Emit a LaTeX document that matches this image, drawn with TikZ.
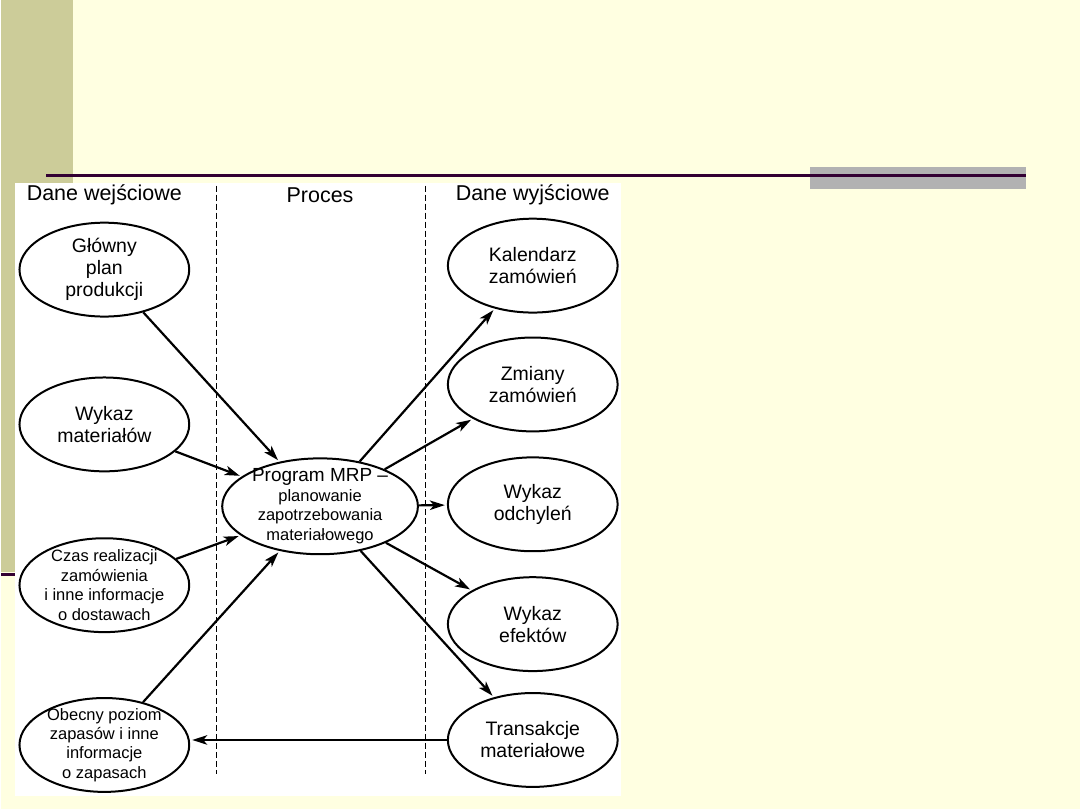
\documentclass[tikz,border=0pt]{standalone}
\usepackage{fontspec}
\setmainfont{Liberation Sans}
\usetikzlibrary{shapes.geometric,arrows.meta}
\definecolor{slidebg}{RGB}{255,255,225}
\definecolor{sidebar}{RGB}{204,204,153}
\definecolor{rulecol}{RGB}{51,0,51}
\definecolor{tabgray}{RGB}{178,178,178}
\begin{document}
\begin{tikzpicture} [x = 1pt, y = -1pt,
	box/.style = {ellipse, draw, line width = 2pt, minimum width = 170pt, minimum height = 94pt, inner sep = -10pt, align = center, font = \fontsize{19.5}{22}\selectfont},
	small/.style = {font = \fontsize{16.5}{19.5}\selectfont},
	flow/.style = {line width = 2.2pt, shorten > = 2pt, -{Stealth[length = 15pt, width = 9.5pt, inset = 4pt]}},
	head/.style = {font = \fontsize{21.5}{24}\selectfont},
	sep/.style = {line width = 0.8pt, dash pattern = on 6pt off 3pt}]
	\fill [slidebg] (0,0) rectangle (1080,810);
	\fill [sidebar] (0,0) rectangle (72,573);
	\draw [rulecol, line width = 3pt] (0,575) -- (72,575);
	\fill [tabgray] (810,167) rectangle (1026,189);
	\draw [rulecol, line width = 3pt] (45,176) -- (1026,176);
	\fill [white] (14,183) rectangle (620,797);
	% column heads and separators
	\node [head] (hin) at (103,195) {Dane wejściowe};
	\node [head] (hproc) at (319,195) {Proces};
	\node [head] (hout) at (532,195) {Dane wyjściowe};
	\draw [sep] (215,186) -- (215,775);
	\draw [sep] (424,186) -- (424,775);
	% inputs
	\node [box] (glowny) at (103,270) {Główny\\plan\\produkcji};
	\node [box] (wykaz) at (103,425) {Wykaz\\materiałów};
	\node [box, small] (czas) at (103,586) {Czas realizacji\\zamówienia\\i inne informacje\\o dostawach};
	\node [box, small] (obecny) at (103,746) {Obecny poziom\\zapasów i inne\\informacje\\o zapasach};
	% process
	\node [box, minimum width = 196pt, minimum height = 96pt, font = \fontsize{16.5}{19.5}\selectfont] (mrp) at (319,507) {{\fontsize{19}{22}\selectfont Program MRP –}\\planowanie\\zapotrzebowania\\materiałowego};
	% outputs
	\node [box] (kal) at (532,266) {Kalendarz\\zamówień};
	\node [box] (zmiany) at (532,385) {Zmiany\\zamówień};
	\node [box] (odch) at (532,505) {Wykaz\\odchyleń};
	\node [box] (efekt) at (532,625) {Wykaz\\efektów};
	\node [box] (trans) at (532,741) {Transakcje\\materiałowe};
	\draw [flow] (glowny) -- (mrp);
	\draw [flow] (wykaz) -- (mrp);
	\draw [flow] (czas) -- (mrp);
	\draw [flow] (obecny) -- (mrp);
	\draw [flow] (mrp) -- (kal);
	\draw [flow] (mrp) -- (zmiany);
	\draw [flow] (mrp) -- (odch);
	\draw [flow] (mrp) -- (efekt);
	\draw [flow] (mrp) -- (trans);
	\draw [flow] (trans.west) -- (trans.west -| obecny.east);
\end{tikzpicture}
\end{document}
